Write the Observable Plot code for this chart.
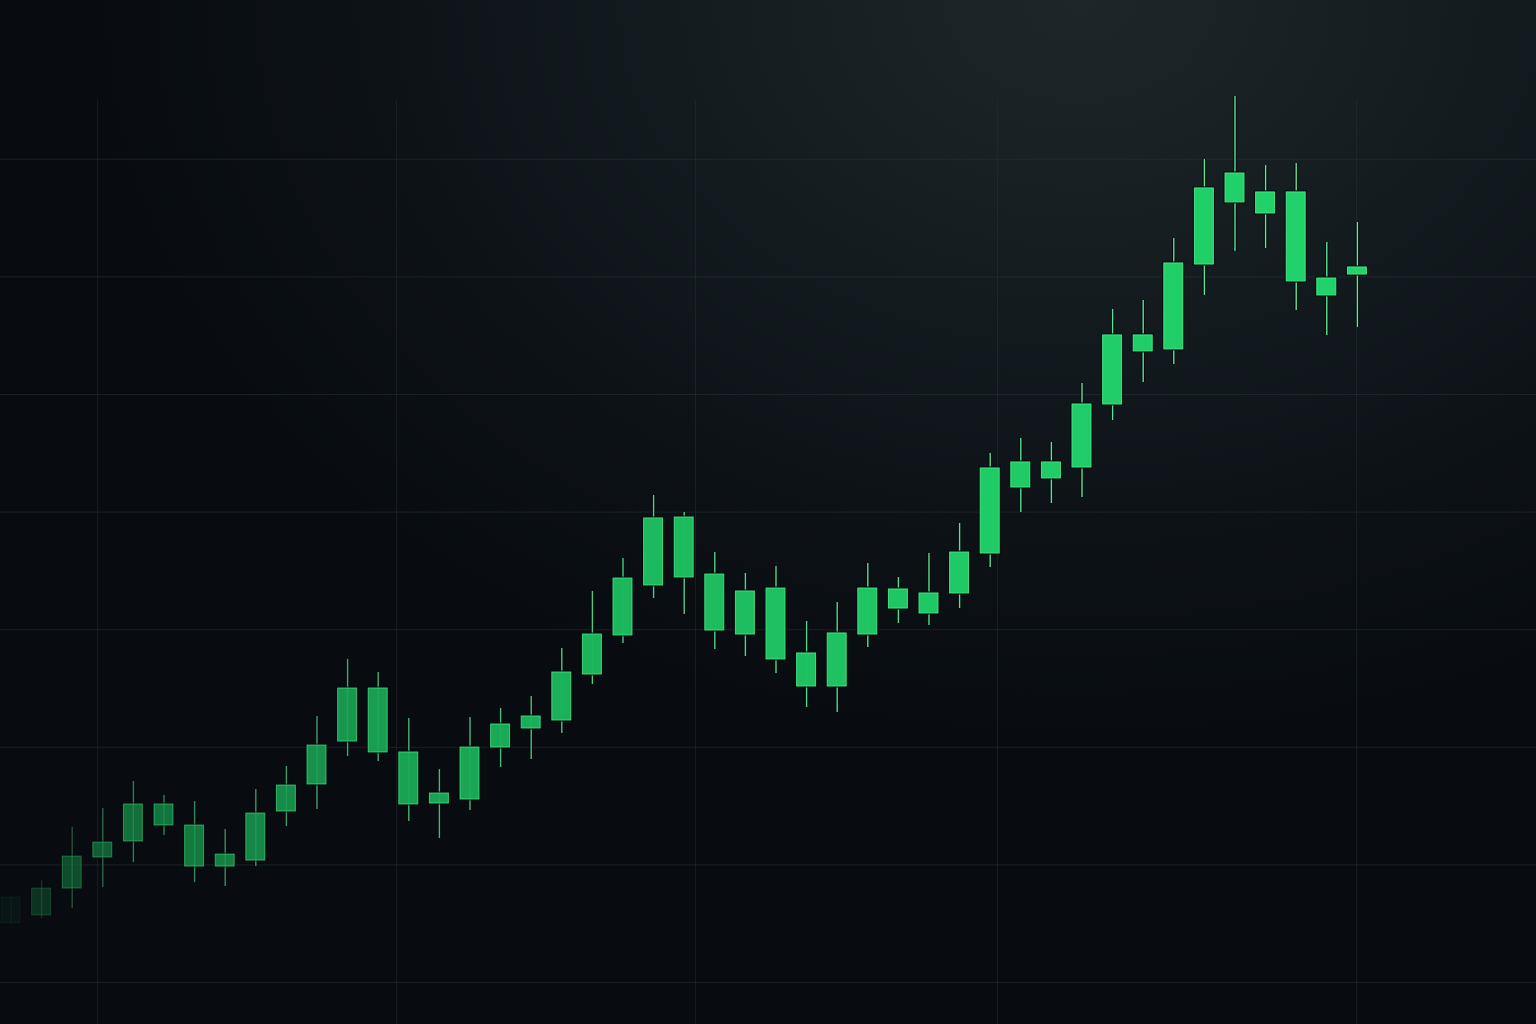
<!DOCTYPE html>
<html>
<head>
<meta charset="utf-8">
<script src="https://cdn.jsdelivr.net/npm/d3@7"></script>
<script src="https://cdn.jsdelivr.net/npm/@observablehq/plot@0.6"></script>
<style>
  html, body { margin: 0; padding: 0; background: #080c11; overflow: hidden; }
  #chart svg { display: block; }
</style>
</head>
<body>
<div id="chart"></div>
<script>
// Candle values (prices), index 0..44 left to right; all candles are up (green)
const highs  = [107.30, 108.67, 113.18, 114.80, 117.09, 115.90, 115.39, 113.01, 116.41, 118.37, 122.62, 127.47, 126.36, 122.45, 118.11, 122.53, 123.30, 124.32, 128.40, 133.25, 136.05, 141.41, 139.97, 136.56, 134.78, 135.37, 130.70, 132.31, 135.63, 134.44, 136.48, 139.03, 144.98, 146.26, 145.92, 150.94, 157.23, 157.99, 163.27, 169.98, 175.34, 169.47, 169.64, 162.93, 164.63];
const closes = [107.23, 107.99, 110.71, 111.90, 115.14, 115.14, 113.35, 110.88, 114.37, 116.75, 120.15, 125.00, 125.00, 119.56, 116.07, 119.98, 121.94, 122.62, 126.36, 129.59, 134.35, 139.46, 139.54, 134.69, 133.25, 133.50, 127.98, 129.68, 133.50, 133.42, 133.08, 136.56, 143.71, 144.22, 144.22, 149.15, 155.02, 155.02, 161.14, 167.52, 168.79, 167.18, 167.18, 159.86, 160.80];
const opens  = [105.02, 105.70, 107.99, 110.63, 111.99, 113.35, 109.86, 109.86, 110.37, 114.54, 116.84, 120.49, 119.56, 115.14, 115.22, 115.56, 119.98, 121.60, 122.28, 126.19, 129.51, 133.76, 134.44, 129.93, 129.59, 127.47, 125.17, 125.17, 129.59, 131.80, 131.38, 133.08, 136.48, 142.09, 142.86, 143.79, 149.15, 153.66, 153.83, 161.05, 166.33, 165.39, 159.61, 158.42, 160.20];
const lows   = [105.00, 105.44, 106.29, 108.08, 110.20, 112.50, 108.50, 108.16, 109.86, 113.27, 114.71, 119.22, 118.79, 113.69, 112.24, 114.63, 118.28, 118.96, 121.17, 125.34, 128.83, 132.65, 131.29, 128.32, 127.72, 126.28, 123.38, 122.96, 128.49, 130.53, 130.36, 131.80, 135.29, 139.97, 140.73, 141.24, 147.79, 151.02, 152.55, 158.42, 162.16, 162.41, 157.14, 155.02, 155.70];

// Grid positions (price levels and candle-index positions)
const gridPrices = [100, 110, 120, 130, 140, 150, 160, 170];
const gridIdx = [2.83, 12.6, 22.37, 32.24, 43.97];

const candles = opens.map((o, i) => ({i, open: o, close: closes[i], high: highs[i], low: lows[i]}));

const yMin = 96.43, yMax = 183.5;
const half = 0.31;

const chart = Plot.plot({
  width: 1536,
  height: 1024,
  margin: 0,
  x: {type: "linear", domain: [-0.343, 49.853], axis: null},
  y: {domain: [yMin, yMax], axis: null},
  opacity: {
    type: "linear",
    domain: [0, 1, 2, 4, 8, 12, 20, 30, 44],
    range: [0.06, 0.2, 0.33, 0.5, 0.62, 0.74, 0.86, 0.95, 1],
    clamp: true
  },
  style: {
    background: "radial-gradient(ellipse 1000px 750px at 1080px 0px, #1d2629 0%, #151d21 35%, #0d1217 70%, #080c11 100%)",
    overflow: "hidden"
  },
  marks: [
    Plot.ruleY(gridPrices, {y: d => d, stroke: "#2b353a", strokeOpacity: 0.5, strokeWidth: 1}),
    Plot.ruleX(gridIdx, {x: d => d, y1: yMin, y2: 175, stroke: "#2b353a", strokeOpacity: 0.45, strokeWidth: 1}),
    // wick outline + wick
    Plot.ruleX(candles, {x: "i", y1: "low", y2: "high", stroke: "#04090a", strokeWidth: 3.5, strokeOpacity: "i"}),
    Plot.ruleX(candles, {x: "i", y1: "low", y2: "high", stroke: "#5fea98", strokeWidth: 1.4, strokeOpacity: "i"}),
    // body outline
    Plot.rect(candles, {x1: d => d.i - half, x2: d => d.i + half, y1: "open", y2: "close", fill: "#04090a", inset: -1.5, fillOpacity: "i"}),
    // body
    Plot.rect(candles, {x1: d => d.i - half, x2: d => d.i + half, y1: "open", y2: "close", fill: "#21d36a", stroke: "#46e889", strokeWidth: 1, fillOpacity: "i", strokeOpacity: "i"})
  ]
});

document.getElementById("chart").appendChild(chart);
</script>
</body>
</html>
